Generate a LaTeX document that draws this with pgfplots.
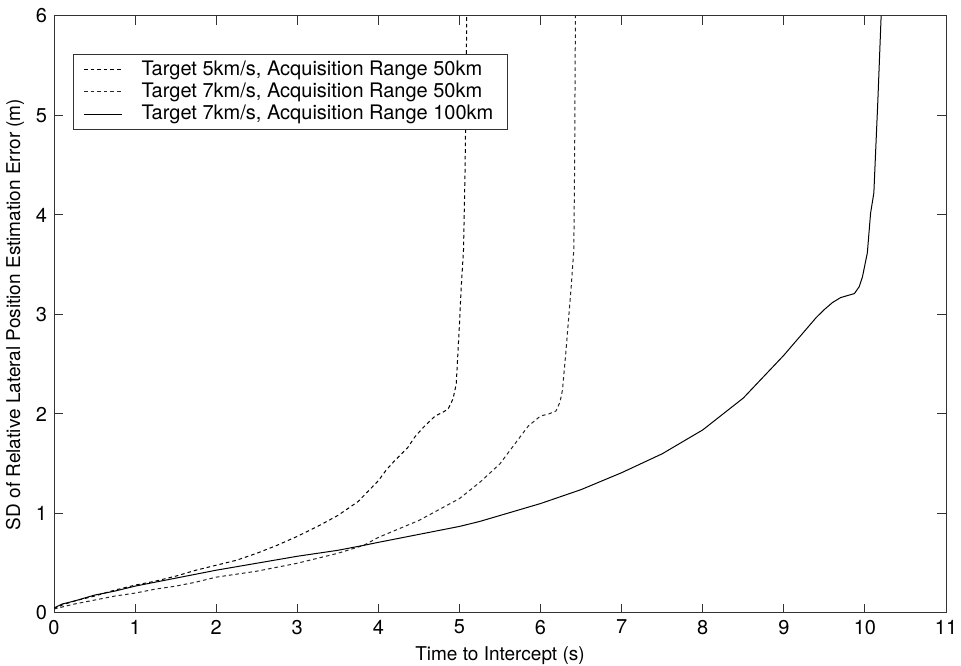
\documentclass[border=0pt]{standalone}
\usepackage{fontspec}
\setmainfont{TeX Gyre Heros}
\usepackage{pgfplots}
\pgfplotsset{compat=1.18}
\begin{document}
\fontsize{10}{12}\selectfont
\begin{tikzpicture}
\begin{axis}[name=ax, scale only axis, width=446pt, height=298.5pt,
  xmin=0, xmax=11, ymin=0, ymax=6,
  xtick={0,1,...,11}, ytick={0,1,...,6},
  tick align=inside, major tick length=4.5pt,
  xtick pos=both, ytick pos=both,
  xticklabel pos=left, yticklabel pos=left,
  axis line style={black!80, line width=0.5pt},
  tick style={black!80, line width=0.5pt},
  /pgf/number format/assume math mode=true,
  tick label style={font=\fontsize{10}{12}\selectfont},
  label style={font=\fontsize{9.5}{12}\selectfont},
  xlabel={Time to Intercept (s)},
  ylabel={SD of Relative Lateral Position Estimation Error (m)},
  xlabel style={yshift=1pt},
  ylabel style={yshift=-1pt},
  legend style={at={(rel axis cs:0.0213,0.937)}, anchor=north west,
    draw=black!80, line width=0.5pt, font=\fontsize{10}{12}\selectfont,
    inner xsep=5pt, inner ysep=2pt, row sep=0pt, column sep=7.5pt,
    nodes={inner ysep=1.2pt, inner xsep=2pt}},
  legend cell align=left,
  legend image code/.code={\draw[#1] (0pt,0pt) -- (19pt,0pt);},
]
\addplot[black, line width=0.5pt, dash pattern=on 1.8pt off 1.5pt] coordinates {
(0,0.04)(0.1,0.08)(0.25,0.12)(0.5,0.17)(0.75,0.23)(1.0,0.28)(1.25,0.32)(1.5,0.37)(1.75,0.43)(2.0,0.48)(2.25,0.53)(2.5,0.6)(2.75,0.68)(3.0,0.77)(3.25,0.87)(3.5,0.98)(3.75,1.12)(4.0,1.33)(4.1,1.44)(4.2,1.53)(4.36,1.66)(4.45,1.77)(4.56,1.87)(4.7,1.98)(4.8,2.02)(4.86,2.05)(4.92,2.15)(4.96,2.3)(4.98,2.6)(5.0,2.9)(5.02,3.25)(5.05,3.65)(5.07,4.5)(5.08,5.2)(5.09,6.0)
};
\addlegendentry{Target 5km/s, Acquisition Range 50km}
\addplot[black!85, line width=0.5pt, dash pattern=on 1.8pt off 1.5pt] coordinates {
(0,0.04)(0.25,0.09)(0.5,0.13)(0.75,0.17)(1.0,0.2)(1.25,0.24)(1.5,0.27)(1.75,0.31)(2.0,0.36)(2.5,0.42)(3.0,0.5)(3.5,0.6)(3.82,0.68)(4.0,0.76)(4.5,0.93)(5.0,1.15)(5.26,1.32)(5.5,1.5)(5.72,1.74)(5.85,1.88)(6.0,1.98)(6.1,2.0)(6.19,2.03)(6.24,2.12)(6.27,2.24)(6.31,2.6)(6.35,3.0)(6.38,3.3)(6.41,3.65)(6.42,4.5)(6.43,6.0)
};
\addlegendentry{Target 7km/s, Acquisition Range 50km}
\addplot[black, line width=0.5pt] coordinates {
(0,0.05)(0.1,0.09)(0.25,0.12)(0.5,0.18)(0.75,0.22)(1.0,0.27)(1.25,0.31)(1.5,0.35)(1.75,0.39)(2.0,0.43)(2.5,0.5)(3.0,0.57)(3.5,0.63)(3.82,0.68)(4.0,0.71)(4.5,0.79)(5.0,0.87)(5.25,0.92)(5.5,0.98)(6.0,1.1)(6.5,1.24)(7.0,1.41)(7.5,1.6)(8.0,1.84)(8.5,2.16)(9.0,2.59)(9.2,2.78)(9.4,2.97)(9.5,3.05)(9.6,3.12)(9.7,3.17)(9.87,3.21)(9.93,3.28)(9.97,3.38)(10.03,3.62)(10.07,4.02)(10.11,4.22)(10.16,5.16)(10.2,6.0)
};
\addlegendentry{Target 7km/s, Acquisition Range 100km}
\end{axis}
\pgfresetboundingbox
\useasboundingbox ([xshift=-27pt,yshift=-26.5pt]ax.south west) rectangle ([xshift=7.5pt,yshift=8pt]ax.north east);
\end{tikzpicture}
\end{document}
